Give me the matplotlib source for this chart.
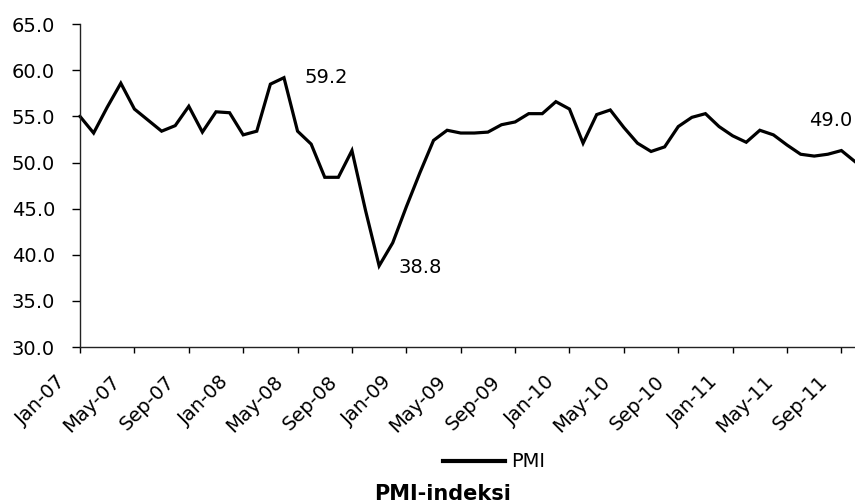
import matplotlib
matplotlib.use("Agg")
from matplotlib import pyplot as plt
from matplotlib.lines import Line2D
from matplotlib.transforms import ScaledTranslation
import numpy as np

plt.rcParams['font.family'] = ['DejaVu Sans']

# monthly PMI, Jan-07 .. Oct-11
months = ['Jan', 'Feb', 'Mar', 'Apr', 'May', 'Jun',
          'Jul', 'Aug', 'Sep', 'Oct', 'Nov', 'Dec']
pmi = [55.0, 53.2, 56.0, 58.6, 55.8, 54.6, 53.4, 54.0, 56.1, 53.3, 55.5, 55.4,
       53.0, 53.4, 58.5, 59.2, 53.4, 52.0, 48.4, 48.4, 51.3, 44.8, 38.8, 41.3,
       45.2, 48.9, 52.4, 53.5, 53.2, 53.2, 53.3, 54.1, 54.4, 55.3, 55.3, 56.6,
       55.8, 52.1, 55.2, 55.7, 53.8, 52.1, 51.2, 51.7, 53.9, 54.9, 55.3, 53.9,
       52.9, 52.2, 53.5, 53.0, 51.9, 50.9, 50.7, 50.9, 51.3, 50.1]
labels = ['%s-%02d' % (months[i % 12], 7 + i // 12) for i in range(len(pmi))]

y_ticks = np.arange(30, 66, 5)

fig = plt.figure(figsize=(8.55, 5.04), dpi=100)
ax = fig.add_axes([0.0936, 0.3115, 0.9064, 0.6405])

x = np.arange(len(pmi))
ax.plot(x, pmi, color='black', lw=2.3, solid_joinstyle='miter', clip_on=False)

ax.set_xlim(0, len(pmi) - 1)
ax.set_ylim(30, 65)
ax.set_yticks(y_ticks)
ax.set_yticklabels(['%.1f' % v for v in y_ticks], fontsize=14)
ax.set_xticks(x[::4])
ax.set_xticklabels(labels[::4], rotation=45, ha='right', rotation_mode='anchor',
                   fontsize=14)
ax.tick_params(axis='x', direction='out', length=4.5, width=1, pad=4)
ax.tick_params(axis='y', direction='out', length=6, width=1, pad=12)

# shift the slanted month labels left and down
offset = ScaledTranslation(-0.24, -0.13, fig.dpi_scale_trans)
for lab in ax.get_xticklabels():
    lab.set_transform(lab.get_transform() + offset)

for s in ['top', 'right']:
    ax.spines[s].set_visible(False)
for s in ['left', 'bottom']:
    ax.spines[s].set_linewidth(1)
    ax.spines[s].set_color('#222222')

# value call-outs
ax.text(16.5, 59.25, '%.1f' % 59.2, fontsize=14, va='center', ha='left')
ax.text(23.4, 38.6, '%.1f' % 38.8, fontsize=14, va='center', ha='left')
ax.text(53.6, 54.6, '%.1f' % 49.0, fontsize=14, va='center', ha='left')

# legend entry and caption below the axes
fig.add_artist(Line2D([443 / 855, 505 / 855], [0.0853, 0.0853], color='black',
                      lw=3, transform=fig.transFigure))
fig.text(511 / 855, 0.0853, 'PMI', fontsize=14, ha='left', va='center')
fig.text(0.5175, 0.008, 'PMI-indeksi', fontsize=15, fontweight='bold',
         ha='center', va='baseline')

fig.savefig('out.png', dpi=100)
